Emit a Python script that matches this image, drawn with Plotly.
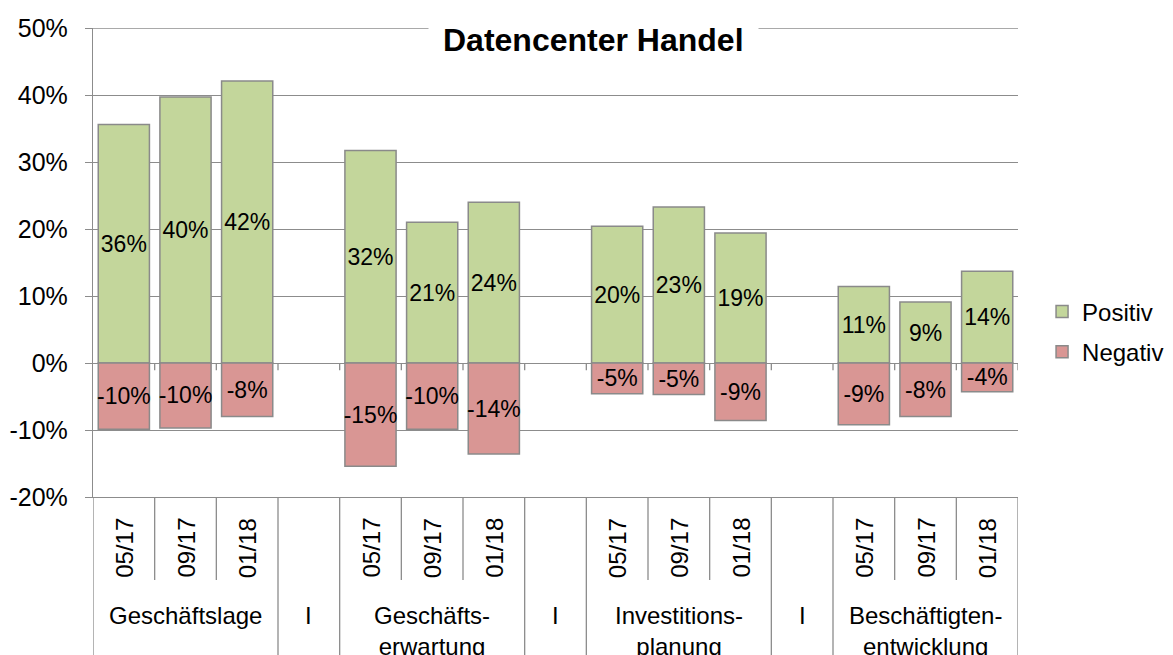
import plotly.graph_objects as go

groups = ["Geschäftslage", "Geschäftserwartung", "Investitionsplanung", "Beschäftigtenentwicklung"]
group_labels = ["Geschäftslage", "Geschäfts-<br>erwartung", "Investitions-<br>planung", "Beschäftigten-<br>entwicklung"]
periods = ["05/17", "09/17", "01/18"]
gap_label = "I"

positiv = [0.356, 0.397, 0.421,
           0.317, 0.210, 0.240,
           0.204, 0.233, 0.194,
           0.114, 0.091, 0.137]
negativ = [-0.099, -0.097, -0.080,
           -0.154, -0.099, -0.136,
           -0.046, -0.047, -0.086,
           -0.092, -0.080, -0.043]

y_tickvals = [-0.2, -0.1, 0.0, 0.1, 0.2, 0.3, 0.4, 0.5]
y_ticktext = ["-20%", "-10%", "0%", "10%", "20%", "30%", "40%", "50%"]

GREEN = "#c3d69b"
RED = "#d99694"
EDGE = "#8a8a8a"
GRID = "#8c8c8c"
FONT = "Liberation Sans, Arial, sans-serif"

# build category slots (bars + gap slots between groups)
slots = []
bar_x = []
gap_slots = []
for gi, g in enumerate(groups):
    for p in periods:
        key = f"{g} {p}"
        slots.append(key)
        bar_x.append(key)
    if gi < len(groups) - 1:
        gk = "gap" + str(gi)
        slots.append(gk)
        gap_slots.append(gk)


def pct(v):
    return f"{round(v * 100):.0f}%"


fig = go.Figure()
fig.add_trace(go.Bar(
    x=bar_x, y=positiv, name="Positiv", legendgroup="p",
    marker=dict(color=GREEN, line=dict(color=EDGE, width=1.5)),
    text=[pct(v) for v in positiv], textposition="inside",
    insidetextanchor="middle", textangle=0, constraintext="none",
    textfont=dict(size=23, color="black", family=FONT),
))
fig.add_trace(go.Bar(
    x=bar_x, y=negativ, name="Negativ", legendgroup="n",
    marker=dict(color=RED, line=dict(color=EDGE, width=1.5)),
    text=[pct(v) for v in negativ], textposition="inside",
    insidetextanchor="middle", textangle=0, constraintext="none",
    textfont=dict(size=23, color="black", family=FONT),
))

H = 469.0  # plot height in px


def py(px_below_bottom):
    return -px_below_bottom / H


shapes = []
annotations = []
n = len(slots)
# top gridline (50%)
shapes.append(dict(type="line", xref="paper", yref="y", x0=0, x1=1, y0=0.5, y1=0.5,
                   line=dict(color=GRID, width=1.3), layer="below"))
# dividers in the category table
for i in range(n + 1):
    xb = i - 0.5
    left = slots[i - 1] if i > 0 else None
    right = slots[i] if i < n else None
    full = (left is None or left in gap_slots) or (right is None or right in gap_slots)
    y_end = py(200) if full else py(83)
    shapes.append(dict(type="line", xref="x", yref="paper", x0=xb, x1=xb,
                       y0=0, y1=y_end, line=dict(color=GRID, width=1.3)))
    # small ticks below the zero line
    if 0 < i:
        shapes.append(dict(type="line", xref="x", yref="y", x0=xb, x1=xb,
                           y0=0, y1=-0.011, line=dict(color=GRID, width=1.3)))

# sub labels (periods) rotated, and gap markers
for s in slots:
    if s in gap_slots:
        annotations.append(dict(x=s, y=py(118), xref="x", yref="paper",
                                text=gap_label, showarrow=False, yanchor="middle",
                                font=dict(size=24, color="black", family=FONT)))
    else:
        annotations.append(dict(x=s, y=py(51), xref="x", yref="paper",
                                text=s.split(" ")[-1], showarrow=False, textangle=-90,
                                yanchor="middle", xanchor="center",
                                font=dict(size=24, color="black", family=FONT)))
# group labels
for g, gl in zip(groups, group_labels):
    annotations.append(dict(x=f"{g} {periods[1]}", y=py(103), xref="x", yref="paper",
                            text=gl, showarrow=False, yanchor="top",
                            font=dict(size=24, color="black", family=FONT)))

# title with white box
annotations.append(dict(x=0.541, y=0.975, xref="paper", yref="paper",
                        text="<b>Datencenter Handel</b>", showarrow=False,
                        yanchor="middle", bgcolor="white", borderpad=14,
                        font=dict(size=32, color="black", family=FONT)))

fig.update_layout(
    width=1173, height=655,
    margin=dict(l=93, r=155, t=28, b=158, pad=0, autoexpand=False),
    paper_bgcolor="white", plot_bgcolor="white",
    barmode="relative", bargap=0.17,
    showlegend=True,
    legend=dict(x=1.026, y=0.352, xanchor="left", yanchor="middle",
                font=dict(size=24, color="black", family=FONT),
                traceorder="grouped", itemwidth=30, tracegroupgap=6),
    shapes=shapes, annotations=annotations,
    font=dict(family=FONT),
)
fig.update_xaxes(categoryorder="array", categoryarray=slots, range=[-0.5, n - 0.5],
                 showticklabels=False, ticks="", showgrid=False, automargin=False,
                 showline=True, linecolor=GRID, linewidth=1.3, zeroline=False)
fig.update_yaxes(range=[-0.2, 0.5], tickvals=y_tickvals, ticktext=y_ticktext,
                 showgrid=True, gridcolor=GRID, gridwidth=1.3, automargin=False,
                 zeroline=True, zerolinecolor=GRID, zerolinewidth=1.3,
                 showline=True, linecolor=GRID, linewidth=1.3,
                 ticks="outside", ticklen=7, tickcolor=GRID, tickwidth=1.3,
                 ticklabelstandoff=12,
                 tickfont=dict(size=25, color="black", family=FONT))

fig.write_html(
    "out.html",
    config={"displayModeBar": False},
    post_script="document.body.style.margin='0';document.body.style.overflow='hidden';",
)
